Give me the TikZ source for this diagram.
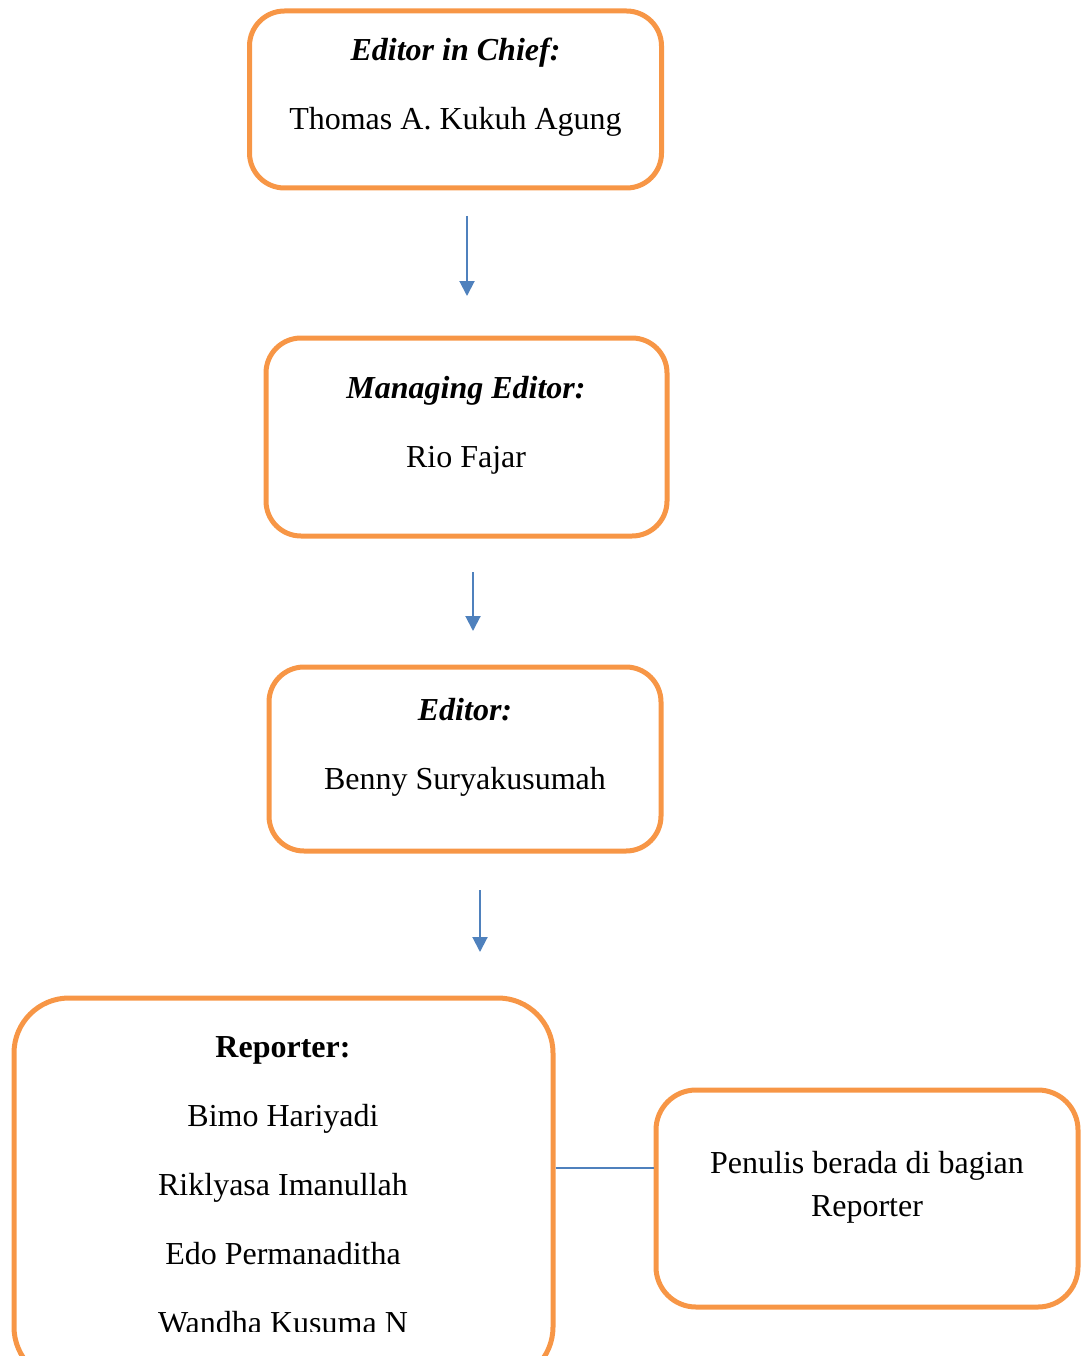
\documentclass[tikz,border=0pt]{standalone}
\usepackage{fontspec}
\setmainfont{Liberation Serif}
\usetikzlibrary{arrows.meta}
\definecolor{boxorange}{HTML}{F79646}
\definecolor{arrblue}{HTML}{4F81BD}
\begin{document}
\begin{tikzpicture}[x=1pt,y=-1pt,
  orgbox/.style={draw=boxorange, line width=5pt, rectangle, inner sep=0pt},
  txt/.style={anchor=base, inner sep=0pt, font=\fontsize{32}{43}\selectfont},
  hd/.style={txt, font=\fontsize{32}{43}\selectfont\bfseries\itshape},
  hdb/.style={txt, font=\fontsize{32}{43}\selectfont\bfseries},
  arr/.style={draw=arrblue, line width=2pt, -{Triangle[width=15pt,length=15pt]}},
  lnk/.style={draw=arrblue, line width=2pt}]
\useasboundingbox (0,0) rectangle (1089,1356);
\clip (0,0) rectangle (1089,1356);
% boxes
\node[orgbox, rounded corners=35pt, minimum width=412pt, minimum height=177pt] (b1) at (455.5,99.5) {};
\node[orgbox, rounded corners=35pt, minimum width=401pt, minimum height=198pt] (b2) at (466.5,437) {};
\node[orgbox, rounded corners=35pt, minimum width=392pt, minimum height=184pt] (b3) at (465,759) {};
\node[orgbox, rounded corners=55pt, minimum width=539pt, minimum height=384pt] (b4) at (283.5,1190) {};
\node[orgbox, rounded corners=40pt, minimum width=422pt, minimum height=217pt] (b5) at (867,1198.5) {};
% texts
\node[hd] (t1a) at (455.5,61) {Editor in Chief:};
\node[txt] (t1b) at (455.5,130) {Thomas A. Kukuh Agung};
\node[hd] (t2a) at (466,398) {Managing Editor:};
\node[txt] (t2b) at (466,467) {Rio Fajar};
\node[hd] (t3a) at (465,720) {Editor:};
\node[txt] (t3b) at (465,789) {Benny Suryakusumah};
\node[hdb] (t4a) at (283,1057) {Reporter:};
\node[txt] (t4b) at (283,1126) {Bimo Hariyadi};
\node[txt] (t4c) at (283,1195) {Riklyasa Imanullah};
\node[txt] (t4d) at (283,1264) {Edo Permanaditha};
\begin{scope}
\clip (0,0) rectangle (1089,1331);
\node[txt] (t4e) at (283,1333) {Wandha Kusuma N};
\end{scope}
\node[txt] (t5a) at (867,1173) {Penulis berada di bagian};
\node[txt] (t5b) at (867,1216) {Reporter};
% arrows
\coordinate (a1s) at (467,216); \coordinate (a1e) at (467,296);
\coordinate (a2s) at (473,572); \coordinate (a2e) at (473,631);
\coordinate (a3s) at (480,890); \coordinate (a3e) at (480,952);
\draw[arr] (a1s) -- (a1e);
\draw[arr] (a2s) -- (a2e);
\draw[arr] (a3s) -- (a3e);
\coordinate (lk) at (0,1168);
\draw[lnk] (b4.east |- lk) -- (b5.west |- lk);
\end{tikzpicture}
\end{document}
